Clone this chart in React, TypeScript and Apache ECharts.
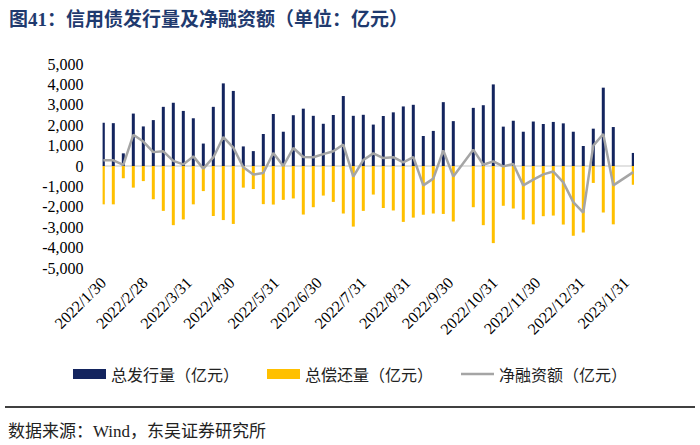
import React, { useEffect, useRef } from "react";
import * as echarts from "echarts";

// Weekly dates (week-ending Sundays); weeks without data are omitted
const weekDates: string[] = [
  "2022-01-30","2022-02-06","2022-02-13","2022-02-20","2022-02-27","2022-03-06","2022-03-13","2022-03-20","2022-03-27",
  "2022-04-03","2022-04-10","2022-04-17","2022-04-24","2022-05-01","2022-05-08","2022-05-15","2022-05-22","2022-05-29",
  "2022-06-05","2022-06-12","2022-06-19","2022-06-26","2022-07-03","2022-07-10","2022-07-17","2022-07-24","2022-07-31",
  "2022-08-07","2022-08-14","2022-08-21","2022-08-28","2022-09-04","2022-09-11","2022-09-18","2022-09-25","2022-10-02",
  "2022-10-16","2022-10-23","2022-10-30","2022-11-06","2022-11-13","2022-11-20","2022-11-27","2022-12-04",
  "2022-12-11","2022-12-18","2022-12-25","2023-01-01","2023-01-08","2023-01-15","2023-01-22","2023-02-05",
];

const issuance: number[] = [
  2120, 2100, 620, 2570, 1940, 2250, 2900, 3100, 2700,
  2340, 1100, 2900, 4050, 3680, 960, 730, 1570, 2550,
  1680, 2490, 2810, 2460, 2070, 2500, 3430, 2460, 2510,
  2030, 2450, 2630, 2920, 3000, 1470, 1720, 3130, 2200,
  2850, 2980, 4000, 1930, 2220, 1680, 2180, 2060,
  2160, 2090, 1680, 980, 1830, 3840, 1910, 640,
];

const repayment: number[] = [
  -1880, -1880, -600, -1060, -740, -1630, -2200, -2900, -2620,
  -1880, -1230, -2450, -2650, -2840, -1060, -1130, -1870, -1890,
  -1660, -1590, -2380, -2020, -1450, -1760, -2330, -2970, -2200,
  -1400, -2060, -2180, -2740, -2530, -2390, -2330, -2350, -2720,
  -2020, -2900, -3780, -1950, -2080, -2630, -2860, -2460,
  -2430, -2870, -3420, -3260, -830, -2280, -2860, -920,
];

const netFinancing: number[] = [
  280, 280, 50, 1530, 1200, 680, 720, 250, 80,
  470, -130, 420, 1420, 900, -60, -420, -340, 640,
  0, 880, 440, 430, 580, 720, 1050, -520, 290,
  620, 390, 430, 180, 440, -950, -620, 760, -510,
  800, 60, 230, -20, 100, -950, -670, -410,
  -270, -800, -1770, -2280, 1000, 1570, -950, -300,
];

const labelDates: string[] = [
  "2022-01-30","2022-02-28","2022-03-31","2022-04-30","2022-05-31","2022-06-30",
  "2022-07-31","2022-08-31","2022-09-30","2022-10-31","2022-11-30","2022-12-31","2023-01-31",
];

const yTicks = { min: -5000, max: 5000, interval: 1000 };

const seriesNames = ["总发行量（亿元）", "总偿还量（亿元）", "净融资额（亿元）"];

function dayList(start: string, end: string): string[] {
  const out: string[] = [];
  const d = new Date(start + "T00:00:00Z");
  const e = new Date(end + "T00:00:00Z");
  while (d.getTime() <= e.getTime()) {
    out.push(d.toISOString().slice(0, 10));
    d.setUTCDate(d.getUTCDate() + 1);
  }
  return out;
}

export default function App() {
  const ref = useRef<HTMLDivElement>(null);
  useEffect(() => {
    document.body.style.margin = "0";
    if (!ref.current) return;
    const chart = echarts.init(ref.current, undefined, { renderer: "svg" });
    const days = dayList(weekDates[0], weekDates[weekDates.length - 1]);
    const idx: Record<string, number> = {};
    weekDates.forEach((d, i) => (idx[d] = i));
    const pick = (arr: number[]) => days.map((d) => (d in idx ? arr[idx[d]] : null));

    const serif = "'Liberation Serif', 'Times New Roman', serif";
    const cjk = "'Noto Sans CJK SC', sans-serif";

    chart.setOption({
      animation: false,
      title: {
        text: "图41：信用债发行量及净融资额（单位：亿元）",
        left: 4,
        top: 5,
        textStyle: { fontFamily: "'Liberation Serif', 'Noto Sans CJK SC', serif", fontSize: 19, fontWeight: "bold", color: "#1F3A6E" },
      },
      grid: { left: 102.6, right: 66, top: 64, bottom: 177, containLabel: false },
      legend: {
        top: 361,
        left: "center",
        itemWidth: 33,
        itemHeight: 10,
        itemGap: 28,
        textStyle: { fontFamily: cjk, fontSize: 16, color: "#222" },
        data: [
          { name: seriesNames[0], icon: "rect" },
          { name: seriesNames[1], icon: "rect" },
          { name: seriesNames[2], icon: "path://M0,0 L33,0 L33,2.5 L0,2.5 Z" },
        ],
      },
      xAxis: {
        type: "category",
        data: days,
        axisLine: { show: false },
        axisTick: { show: false },
        splitLine: { show: false },
        axisLabel: {
          rotate: 45,
          margin: 12,
          interval: (_i: number, v: string) => labelDates.includes(v),
          formatter: (v: string) => {
            const [y, m, d] = v.split("-");
            return `${y}/${parseInt(m, 10)}/${parseInt(d, 10)}`;
          },
          fontFamily: serif,
          fontSize: 16,
          color: "#000",
        },
      },
      yAxis: {
        type: "value",
        min: yTicks.min,
        max: yTicks.max,
        interval: yTicks.interval,
        axisLine: { show: false },
        axisTick: { show: false },
        splitLine: { show: false },
        axisLabel: {
          margin: 19,
          fontFamily: serif,
          fontSize: 16,
          color: "#000",
          formatter: (v: number) => v.toLocaleString("en-US"),
        },
      },
      series: [
        {
          name: seriesNames[0],
          type: "bar",
          data: pick(issuance),
          barWidth: 3,
          barGap: "-100%",
          itemStyle: { color: "#13245E" },
          markLine: {
            symbol: "none",
            silent: true,
            label: { show: false },
            lineStyle: { color: "#D9D9D9", width: 1.5, type: "solid" },
            data: [{ yAxis: 0 }],
            z: 1,
          },
        },
        {
          name: seriesNames[1],
          type: "bar",
          data: pick(repayment),
          barWidth: 3,
          barGap: "-100%",
          itemStyle: { color: "#FFC000" },
        },
        {
          name: seriesNames[2],
          type: "line",
          data: pick(netFinancing),
          connectNulls: true,
          showSymbol: false,
          symbol: "none",
          lineStyle: { color: "#A5A5A5", width: 2.5 },
          itemStyle: { color: "#A5A5A5" },
          z: 5,
        },
      ],
      graphic: [
        {
          type: "line",
          shape: { x1: 5, y1: 407, x2: 695, y2: 407 },
          style: { stroke: "#000", lineWidth: 1.5 },
        },
        {
          type: "text",
          left: 8,
          top: 423,
          style: {
            text: "数据来源：Wind，东吴证券研究所",
            fontFamily: "'Liberation Serif', 'Noto Sans CJK SC', serif",
            fontSize: 17,
            fill: "#222",
          },
        },
      ],
    });
    return () => chart.dispose();
  }, []);
  return <div ref={ref} style={{ width: 700, height: 445 }} />;
}
